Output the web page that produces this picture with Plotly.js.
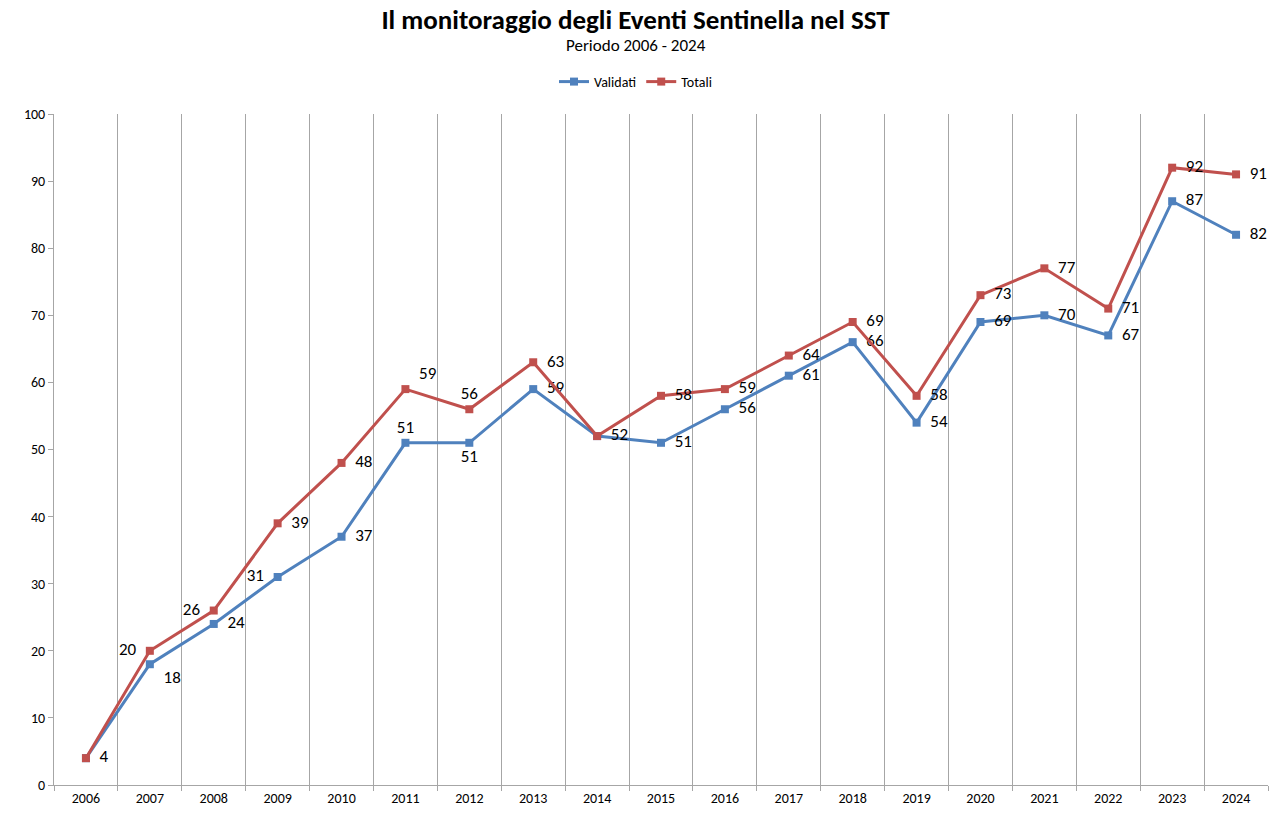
<!DOCTYPE html>
<html>
<head>
<meta charset="utf-8">
<script src="https://cdn.plot.ly/plotly-3.0.1.min.js"></script>
<style>html,body{margin:0;padding:0;background:#fff;}#chart{width:1271px;height:814px;}</style>
</head>
<body>
<div id="chart"></div>
<script>
const years = ['2006','2007','2008','2009','2010','2011','2012','2013','2014','2015','2016','2017','2018','2019','2020','2021','2022','2023','2024'];
const validati = [4,18,24,31,37,51,51,59,52,51,56,61,66,54,69,70,67,87,82];
const totali   = [4,20,26,39,48,59,56,63,52,58,59,64,69,58,73,77,71,92,91];

// label placement (style only)
const posValidati = ['middle right','bottom right','middle right','middle left','middle right','top center','bottom center','middle right','middle right','middle right','middle right','middle right','middle right','middle right','middle right','middle right','middle right','middle right','middle right'];
const posTotali   = ['middle right','middle left','middle left','middle right','middle right','top right','top center','middle right','middle right','middle right','middle right','middle right','middle right','middle right','middle right','middle right','middle right','middle right','middle right'];

const FONT = 'Carlito, Calibri, "Liberation Sans Narrow", "Open Sans", sans-serif';
function pad(v, pos) {
  if (pos.indexOf('right') >= 0) return '  ' + v;
  if (pos.indexOf('left') >= 0) return v + '  ';
  return String(v);
}
// hide duplicated labels where both series coincide
const textValidati = validati.map((v,i)=> v===totali[i] ? '' : pad(v, posValidati[i]));
const textTotali = totali.map((v,i)=> pad(v, posTotali[i]));

const traces = [
  {x: years, y: validati, name: 'Validati', type: 'scatter', mode: 'lines+markers+text',
   line: {color: '#4F81BD', width: 3}, marker: {symbol: 'square', size: 8, color: '#4F81BD'},
   text: textValidati, textposition: posValidati, textfont: {family: FONT, size: 17, color: '#000'}, cliponaxis: false},
  {x: years, y: totali, name: 'Totali', type: 'scatter', mode: 'lines+markers+text',
   line: {color: '#C0504D', width: 3}, marker: {symbol: 'square', size: 8, color: '#C0504D'},
   text: textTotali, textposition: posTotali, textfont: {family: FONT, size: 17, color: '#000'}, cliponaxis: false}
];

const layout = {
  width: 1271, height: 814,
  margin: {l: 54, r: 3, t: 114, b: 29},
  paper_bgcolor: '#fff', plot_bgcolor: '#fff',
  font: {family: FONT, color: '#000'},
  title: {text: '<b>Il monitoraggio degli Eventi Sentinella nel SST</b>', font: {family: FONT, size: 27, color: '#000'},
          x: 0.5, xanchor: 'center', yref: 'container', y: 1 - 20/814, yanchor: 'middle'},
  annotations: [
    {text: 'Periodo 2006 - 2024', xref: 'paper', yref: 'paper', x: 0.5 - (54-3)/2/1214, y: 1 + (114-46)/671,
     xanchor: 'center', yanchor: 'middle', showarrow: false, font: {family: FONT, size: 17, color: '#000'}}
  ],
  showlegend: true,
  legend: {orientation: 'h', x: 0.5 - (54-3)/2/1214, xanchor: 'center', y: 1 + (114-82)/671, yanchor: 'middle',
           font: {family: FONT, size: 14, color: '#000'}, itemwidth: 30, tracegroupgap: 0},
  xaxis: {type: 'category', range: [-0.5, 18.5], tickson: 'boundaries', showgrid: true, gridcolor: '#A6A6A6', gridwidth: 1,
          showline: true, linecolor: '#A6A6A6', linewidth: 1, ticks: 'outside', ticklen: 5, tickcolor: '#A6A6A6',
          tickfont: {family: FONT, size: 14, color: '#000'}, fixedrange: true, zeroline: false},
  yaxis: {range: [0, 100], dtick: 10, tick0: 0, showgrid: false, showline: true, linecolor: '#A6A6A6', linewidth: 1,
          ticks: 'outside', ticklen: 5, tickcolor: '#A6A6A6', zeroline: false,
          tickfont: {family: FONT, size: 14, color: '#000'}, fixedrange: true}
};

Plotly.newPlot('chart', traces, layout, {displayModeBar: false, staticPlot: true});
</script>
</body>
</html>
